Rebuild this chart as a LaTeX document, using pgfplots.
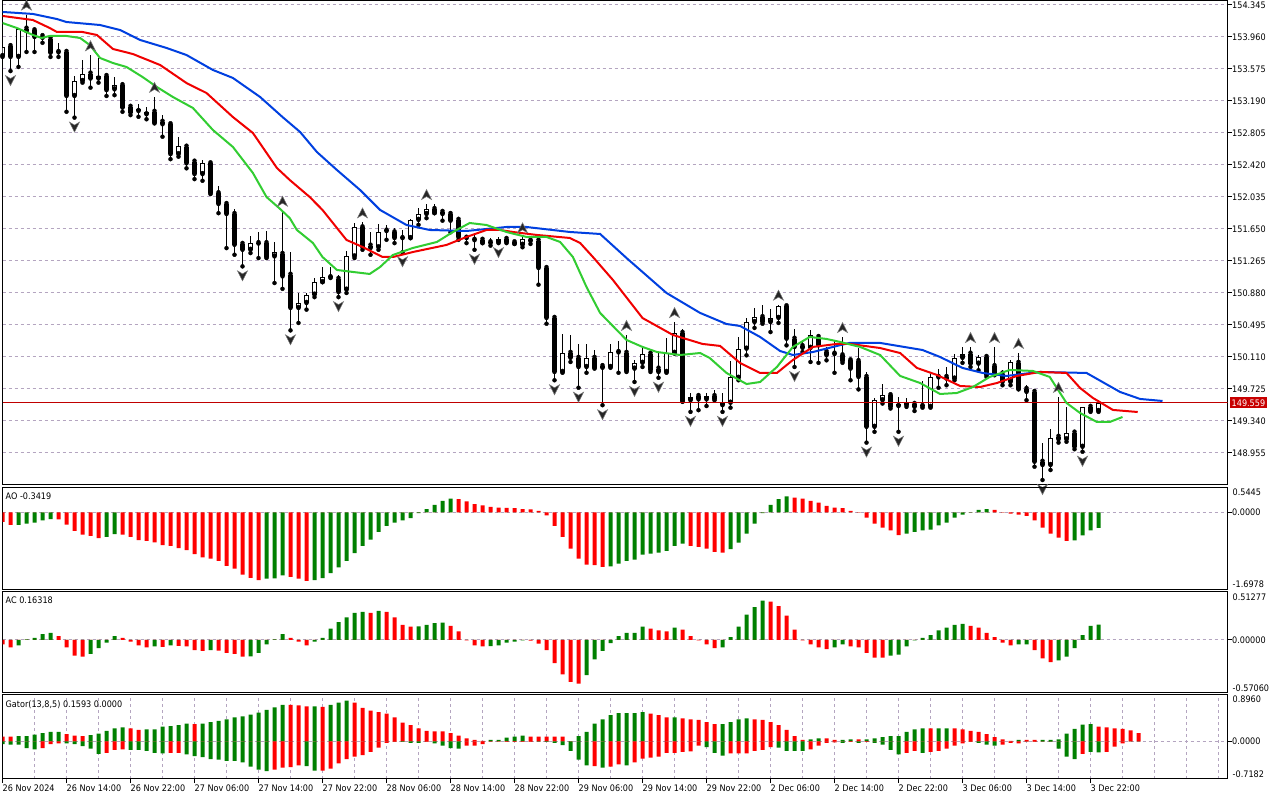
\documentclass[border=0pt]{standalone}
\usepackage{pgfplots}
\pgfplotsset{compat=1.18}
\usepackage{pgfplotstable}
\usepackage{fontspec}
\setmainfont{DejaVu Sans}[FakeStretch=0.9]
\definecolor{gridc}{RGB}{180,165,192}
\definecolor{aogreen}{RGB}{0,128,0}
\definecolor{aored}{RGB}{255,0,0}
\definecolor{jaw}{RGB}{0,64,224}
\definecolor{teeth}{RGB}{240,0,0}
\definecolor{lips}{RGB}{50,205,50}
\definecolor{pricered}{RGB}{200,0,0}

\pgfdeclareplotmark{fup}{%
  \pgfpathmoveto{\pgfqpoint{0pt}{14.5pt}}%
  \pgfpathlineto{\pgfqpoint{5pt}{4.5pt}}%
  \pgfpathlineto{\pgfqpoint{0pt}{7.5pt}}%
  \pgfpathlineto{\pgfqpoint{-5pt}{4.5pt}}%
  \pgfpathclose\pgfusepathqfillstroke}
\pgfdeclareplotmark{fdn}{%
  \pgfpathmoveto{\pgfqpoint{0pt}{-14.5pt}}%
  \pgfpathlineto{\pgfqpoint{5pt}{-4.5pt}}%
  \pgfpathlineto{\pgfqpoint{0pt}{-7.5pt}}%
  \pgfpathlineto{\pgfqpoint{-5pt}{-4.5pt}}%
  \pgfpathclose\pgfusepathqfillstroke}

% hourly candles: i open high low close
\pgfplotstableread{
i o h l c
0 153.73 153.86 153.72 153.84
1 153.85 153.85 153.55 153.72
2 153.72 154.06 153.60 154.06
3 154.06 154.23 153.78 154.03
4 154.04 154.04 153.78 153.96
5 153.97 153.98 153.89 153.95
6 153.94 153.94 153.72 153.77
7 153.78 153.89 153.72 153.775
8 153.78 153.82 153.06 153.25
9 153.25 153.49 152.99 153.43
10 153.43 153.68 153.41 153.52
11 153.52 153.74 153.35 153.46
12 153.46 153.71 153.41 153.49
13 153.49 153.53 153.25 153.32
14 153.33 153.48 153.26 153.38
15 153.38 153.42 153.06 153.11
16 153.12 153.12 153.02 153.05
17 153.07 153.15 153.00 153.09
18 153.03 153.12 152.97 153.06
19 153.06 153.24 152.92 152.93
20 152.94 153.02 152.76 152.91
21 152.91 152.91 152.49 152.55
22 152.55 152.76 152.52 152.65
23 152.64 152.66 152.38 152.44
24 152.46 152.46 152.25 152.31
25 152.31 152.48 152.23 152.44
26 152.44 152.44 152.07 152.08
27 152.08 152.17 151.84 151.95
28 151.95 151.95 151.42 151.83
29 151.83 151.89 151.34 151.46
30 151.47 151.49 151.20 151.40
31 151.40 151.57 151.36 151.48
32 151.48 151.61 151.30 151.475
33 151.48 151.63 151.30 151.31
34 151.32 151.49 151.00 151.37
35 151.35 151.87 150.93 151.08
36 151.10 151.37 150.43 150.70
37 150.70 150.88 150.52 150.76
38 150.76 150.88 150.68 150.86
39 150.86 151.06 150.83 151.01
40 151.01 151.19 151.01 151.07
41 151.07 151.19 151.06 151.075
42 151.05 151.10 150.83 150.89
43 150.92 151.39 150.88 151.32
44 151.32 151.72 151.30 151.67
45 151.67 151.73 151.40 151.43
46 151.45 151.61 151.34 151.42
47 151.43 151.71 151.40 151.61
48 151.63 151.70 151.52 151.625
49 151.61 151.66 151.48 151.54
50 151.54 151.64 151.37 151.545
51 151.54 151.77 151.54 151.76
52 151.76 151.90 151.70 151.83
53 151.83 151.95 151.78 151.89
54 151.89 151.95 151.84 151.84
55 151.855 151.89 151.75 151.83
56 151.83 151.84 151.61 151.75
57 151.76 151.77 151.52 151.55
58 151.545 151.57 151.48 151.54
59 151.52 151.58 151.40 151.515
60 151.52 151.55 151.48 151.48
61 151.49 151.54 151.45 151.48
62 151.49 151.55 151.48 151.53
63 151.53 151.54 151.48 151.49
64 151.49 151.51 151.47 151.47
65 151.46 151.55 151.43 151.53
66 151.51 151.53 151.47 151.505
67 151.51 151.51 150.98 151.18
68 151.18 151.21 150.51 150.58
69 150.58 150.62 149.83 149.93
70 149.93 150.39 149.92 150.16
71 150.16 150.38 150.05 150.10
72 150.10 150.27 149.74 149.99
73 149.99 150.27 149.92 150.10
74 150.10 150.19 149.97 149.98
75 150.00 150.01 149.53 149.98
76 149.99 150.27 149.98 150.17
77 150.17 150.30 149.92 150.165
78 150.16 150.375 149.93 149.94
79 149.97 150.07 149.81 150.04
80 150.04 150.23 149.99 150.15
81 150.15 150.19 149.93 149.95
82 149.97 150.16 149.86 149.93
83 149.93 150.34 149.92 150.16
84 150.16 150.53 150.15 150.40
85 150.40 150.45 149.57 149.58
86 149.59 149.68 149.45 149.63
87 149.64 149.68 149.47 149.60
88 149.60 149.68 149.52 149.64
89 149.64 149.71 149.59 149.60
90 149.53 149.68 149.45 149.56
91 149.56 150.06 149.50 149.87
92 149.86 150.35 149.83 150.21
93 150.21 150.58 150.13 150.53
94 150.53 150.70 150.46 150.59
95 150.59 150.74 150.51 150.53
96 150.53 150.69 150.41 150.58
97 150.58 150.74 150.52 150.72
98 150.72 150.72 150.25 150.33
99 150.33 150.45 149.99 150.23
100 150.24 150.29 150.17 150.22
101 150.22 150.43 150.05 150.375
102 150.35 150.375 150.04 150.25
103 150.17 150.23 150.07 150.13
104 150.15 150.30 149.92 150.145
105 150.13 150.35 150.04 150.06
106 150.07 150.07 149.83 149.97
107 150.06 150.22 149.72 149.87
108 149.87 149.93 149.08 149.27
109 149.27 149.62 149.21 149.59
110 149.59 149.79 149.55 149.65
111 149.65 149.68 149.49 149.51
112 149.52 149.63 149.21 149.545
113 149.53 149.62 149.51 149.57
114 149.545 149.56 149.46 149.51
115 149.52 149.82 149.50 149.515
116 149.51 149.91 149.50 149.87
117 149.87 149.97 149.74 149.865
118 149.87 149.99 149.77 149.85
119 149.85 150.15 149.83 150.10
120 150.10 150.23 150.04 150.15
121 150.15 150.23 149.99 150.03
122 150.03 150.13 149.95 150.11
123 150.11 150.11 149.87 149.89
124 150.00 150.23 149.89 149.91
125 149.91 149.95 149.77 149.81
126 149.81 150.07 149.77 150.05
127 150.04 150.16 149.72 149.725
128 149.725 149.77 149.59 149.69
129 149.69 149.69 148.79 148.85
130 148.85 149.08 148.63 148.81
131 148.81 149.24 148.75 149.14
132 149.15 149.63 149.08 149.12
133 149.12 149.51 149.09 149.20
134 149.20 149.20 149.00 149.03
135 149.03 149.51 148.97 149.51
136 149.51 149.51 149.45 149.46
137 149.46 149.59 149.45 149.559
}\candles

\pgfplotstableread{
i p
3 154.23
11 153.74
19 153.24
35 151.87
45 151.73
53 151.95
65 151.55
78 150.375
84 150.53
97 150.74
105 150.35
121 150.23
124 150.23
127 150.16
132 149.63
}\fracup

\pgfplotstableread{
i p
1 153.55
9 152.99
30 151.20
36 150.43
42 150.83
50 151.37
59 151.40
62 151.48
69 149.83
72 149.74
75 149.53
79 149.81
82 149.86
86 149.45
90 149.45
99 149.99
108 149.08
112 149.21
130 148.63
135 148.97
}\fracdn

% Awesome Oscillator: i value green(1)/red(0)
\pgfplotstableread{
i v g
0 -0.21 0
1 -0.28 0
2 -0.28 1
3 -0.25 1
4 -0.23 1
5 -0.18 1
6 -0.15 1
7 -0.155 0
8 -0.27 0
9 -0.41 0
10 -0.49 0
11 -0.52 0
12 -0.57 0
13 -0.54 1
14 -0.48 1
15 -0.49 0
16 -0.54 0
17 -0.61 0
18 -0.63 0
19 -0.66 0
20 -0.72 0
21 -0.74 0
22 -0.79 0
23 -0.83 0
24 -0.92 0
25 -0.99 0
26 -1.02 0
27 -1.07 0
28 -1.18 0
29 -1.24 0
30 -1.37 0
31 -1.44 0
32 -1.49 0
33 -1.46 1
34 -1.455 1
35 -1.39 1
36 -1.42 0
37 -1.46 0
38 -1.51 0
39 -1.49 1
40 -1.45 1
41 -1.34 1
42 -1.21 1
43 -1.07 1
44 -0.90 1
45 -0.74 1
46 -0.60 1
47 -0.43 1
48 -0.30 1
49 -0.23 1
50 -0.18 1
51 -0.13 1
52 -0.02 1
53 0.07 1
54 0.16 1
55 0.25 1
56 0.30 1
57 0.29 0
58 0.24 0
59 0.18 0
60 0.15 0
61 0.12 0
62 0.10 0
63 0.095 0
64 0.09 0
65 0.07 0
66 0.065 0
67 0.03 0
68 -0.07 0
69 -0.30 0
70 -0.54 0
71 -0.80 0
72 -1.02 0
73 -1.15 0
74 -1.16 0
75 -1.20 0
76 -1.19 1
77 -1.13 1
78 -1.07 1
79 -1.04 1
80 -0.93 1
81 -0.91 1
82 -0.89 1
83 -0.85 1
84 -0.74 1
85 -0.69 1
86 -0.74 0
87 -0.76 0
88 -0.80 0
89 -0.87 0
90 -0.89 0
91 -0.81 1
92 -0.67 1
93 -0.47 1
94 -0.25 1
95 -0.02 1
96 0.16 1
97 0.29 1
98 0.35 1
99 0.32 0
100 0.30 0
101 0.25 0
102 0.21 0
103 0.14 0
104 0.10 0
105 0.09 0
106 0.03 0
107 -0.01 0
108 -0.12 0
109 -0.25 0
110 -0.34 0
111 -0.40 0
112 -0.50 0
113 -0.47 1
114 -0.43 1
115 -0.40 1
116 -0.38 1
117 -0.29 1
118 -0.23 1
119 -0.12 1
120 -0.05 1
121 0.005 1
122 0.05 1
123 0.07 1
124 0.05 0
125 -0.01 0
126 -0.03 0
127 -0.05 0
128 -0.08 0
129 -0.18 0
130 -0.34 0
131 -0.47 0
132 -0.56 0
133 -0.63 0
134 -0.62 1
135 -0.51 1
136 -0.40 1
137 -0.3419 1
}\ao

% Accelerator Oscillator
\pgfplotstableread{
i v g
0 -0.05 0
1 -0.08 0
2 -0.06 1
3 0.005 1
4 0.02 1
5 0.06 1
6 0.075 1
7 0.04 0
8 -0.08 0
9 -0.17 0
10 -0.18 0
11 -0.15 1
12 -0.09 1
13 -0.03 1
14 0.04 1
15 0.02 0
16 -0.02 0
17 -0.06 0
18 -0.08 0
19 -0.07 1
20 -0.075 0
21 -0.06 1
22 -0.065 0
23 -0.07 0
24 -0.11 0
25 -0.12 0
26 -0.11 1
27 -0.115 0
28 -0.14 0
29 -0.15 0
30 -0.18 0
31 -0.178 1
32 -0.14 1
33 -0.05 1
34 0.005 1
35 0.06 1
36 0.02 0
37 -0.02 0
38 -0.06 0
39 -0.02 1
40 0.02 1
41 0.12 1
42 0.19 1
43 0.24 1
44 0.29 1
45 0.30 1
46 0.29 0
47 0.31 1
48 0.30 0
49 0.24 0
50 0.16 0
51 0.14 0
52 0.145 1
53 0.16 1
54 0.18 1
55 0.185 1
56 0.15 0
57 0.09 0
58 -0.005 0
59 -0.06 0
60 -0.07 0
61 -0.068 1
62 -0.06 1
63 -0.03 1
64 -0.02 1
65 -0.005 1
66 -0.008 0
67 -0.04 0
68 -0.11 0
69 -0.25 0
70 -0.37 0
71 -0.45 0
72 -0.47 0
73 -0.38 1
74 -0.21 1
75 -0.12 1
76 -0.035 1
77 0.04 1
78 0.075 1
79 0.075 1
80 0.14 1
81 0.12 0
82 0.10 0
83 0.09 0
84 0.13 1
85 0.11 0
86 0.04 0
87 -0.005 0
88 -0.05 0
89 -0.09 0
90 -0.08 1
91 0.03 1
92 0.14 1
93 0.27 1
94 0.35 1
95 0.42 1
96 0.41 0
97 0.36 0
98 0.26 0
99 0.11 0
100 -0.005 0
101 -0.05 0
102 -0.08 0
103 -0.10 0
104 -0.08 1
105 -0.05 1
106 -0.07 0
107 -0.08 0
108 -0.14 0
109 -0.19 0
110 -0.19 0
111 -0.17 1
112 -0.16 1
113 -0.07 1
114 -0.005 1
115 0.02 1
116 0.05 1
117 0.10 1
118 0.13 1
119 0.16 1
120 0.17 1
121 0.15 0
122 0.13 0
123 0.075 0
124 0.03 0
125 -0.03 0
126 -0.06 0
127 -0.05 1
128 -0.05 1
129 -0.11 0
130 -0.20 0
131 -0.24 0
132 -0.22 1
133 -0.18 1
134 -0.09 1
135 0.05 1
136 0.15 1
137 0.16318 1
}\ac

% Gator: i upper upper-green lower lower-green
\pgfplotstableread{
i u ug d dg
0 0.09 0 -0.05 1
1 0.09 0 -0.06 1
2 0.10 1 -0.06 1
3 0.10 1 -0.13 1
4 0.13 1 -0.15 1
5 0.16 1 -0.13 0
6 0.18 1 -0.05 0
7 0.18 1 -0.04 0
8 0.14 0 -0.04 1
9 0.11 0 -0.05 1
10 0.10 0 -0.09 1
11 0.12 1 -0.14 1
12 0.15 1 -0.24 1
13 0.20 1 -0.22 0
14 0.25 1 -0.16 0
15 0.27 1 -0.15 0
16 0.25 0 -0.16 1
17 0.22 0 -0.16 1
18 0.23 1 -0.18 1
19 0.23 1 -0.22 1
20 0.28 1 -0.23 1
21 0.29 1 -0.22 0
22 0.31 1 -0.22 0
23 0.34 1 -0.25 1
24 0.33 0 -0.28 1
25 0.34 1 -0.30 1
26 0.37 1 -0.34 1
27 0.39 1 -0.35 1
28 0.42 1 -0.37 1
29 0.46 1 -0.37 1
30 0.48 1 -0.40 1
31 0.51 1 -0.48 1
32 0.55 1 -0.54 1
33 0.60 1 -0.57 1
34 0.65 1 -0.54 0
35 0.70 1 -0.50 0
36 0.70 0 -0.49 0
37 0.69 0 -0.46 0
38 0.67 0 -0.47 1
39 0.67 1 -0.56 1
40 0.66 0 -0.56 0
41 0.70 1 -0.52 0
42 0.74 1 -0.42 0
43 0.78 1 -0.34 0
44 0.74 0 -0.29 0
45 0.64 0 -0.26 0
46 0.59 0 -0.20 0
47 0.56 0 -0.12 0
48 0.53 0 -0.03 0
49 0.46 0 -0.01 0
50 0.36 0 -0.01 1
51 0.31 0 -0.03 1
52 0.25 0 -0.03 1
53 0.20 0 -0.01 0
54 0.19 0 -0.04 1
55 0.19 0 -0.08 1
56 0.16 0 -0.13 1
57 0.11 0 -0.14 1
58 0.06 0 -0.08 0
59 0.03 0 -0.08 0
60 0.01 0 -0.05 0
61 0.03 1 -0.005 0
62 0.03 1 -0.005 0
63 0.07 1 -0.01 0
64 0.09 1 -0.01 0
65 0.11 1 -0.01 0
66 0.09 0 -0.01 0
67 0.09 0 -0.005 1
68 0.09 0 -0.01 1
69 0.09 0 -0.03 1
70 0.09 0 -0.07 1
71 0.005 0 -0.18 1
72 0.10 1 -0.35 1
73 0.18 1 -0.46 1
74 0.34 1 -0.47 0
75 0.42 1 -0.50 1
76 0.50 1 -0.48 0
77 0.54 1 -0.44 0
78 0.54 1 -0.46 1
79 0.54 1 -0.40 0
80 0.56 1 -0.33 0
81 0.53 0 -0.31 0
82 0.50 0 -0.29 0
83 0.46 0 -0.22 0
84 0.46 1 -0.22 0
85 0.44 0 -0.20 0
86 0.42 0 -0.19 0
87 0.41 0 -0.08 0
88 0.37 0 -0.11 1
89 0.33 0 -0.22 1
90 0.33 1 -0.27 1
91 0.37 1 -0.23 0
92 0.42 1 -0.23 0
93 0.44 1 -0.23 0
94 0.42 0 -0.18 0
95 0.41 0 -0.16 0
96 0.37 0 -0.11 0
97 0.31 0 -0.12 1
98 0.22 0 -0.18 1
99 0.10 0 -0.18 1
100 0.03 0 -0.18 1
101 0.04 1 -0.15 0
102 0.06 1 -0.08 0
103 0.06 0 -0.03 0
104 0.03 0 -0.02 0
105 0.03 1 -0.03 1
106 0.04 1 -0.01 0
107 0.04 0 -0.03 1
108 0.04 1 -0.01 0
109 0.06 1 -0.03 1
110 0.08 1 -0.06 1
111 0.10 1 -0.16 1
112 0.10 1 -0.25 1
113 0.18 1 -0.22 0
114 0.23 1 -0.18 0
115 0.25 1 -0.22 1
116 0.25 0 -0.20 0
117 0.25 1 -0.18 0
118 0.25 1 -0.14 0
119 0.25 0 -0.08 0
120 0.23 0 -0.04 0
121 0.20 0 -0.01 0
122 0.18 0 -0.03 1
123 0.14 0 -0.06 1
124 0.08 0 -0.08 1
125 0.04 0 -0.06 0
126 0.01 0 -0.03 0
127 0.03 1 -0.04 0
128 0.03 0 -0.005 0
129 0.03 0 -0.01 0
130 0.03 1 -0.005 1
131 0.03 1 -0.01 1
132 0.04 1 -0.14 1
133 0.15 1 -0.29 1
134 0.24 1 -0.34 1
135 0.32 1 -0.24 0
136 0.33 1 -0.20 1
137 0.28 0 -0.21 1
138 0.27 0 -0.20 0
139 0.25 0 -0.10 0
140 0.24 0 -0.04 0
141 0.21 0 0 0
142 0.1593 0 0 0
}\gator

\pgfplotsset{
  mtpanel/.style={
    scale only axis, width=1225pt, xmin=0, xmax=153.125,
    axis line style={black, line width=1pt},
    xtick=\empty,
    minor xtick={4,8,...,152}, xminorgrids,
    minor tick length=0pt,
    minor grid style={gridc, line width=1pt, dash pattern=on 3pt off 3pt},
    major grid style={gridc, line width=1pt, dash pattern=on 3pt off 3pt},
    ytick pos=right, yticklabel pos=right, xtick pos=bottom,
    tick align=outside, major tick length=4pt,
    tick style={black, line width=1pt},
    tick label style={font=\fontsize{9}{10.8}\selectfont, text=black},
    yticklabel style={anchor=west, inner sep=0pt, xshift=0.5pt},
    ymajorgrids,
    clip mode=individual,
  },
  hist/.style={ybar, bar width=4pt, bar shift=0pt, draw=none},
}

\begin{document}
\begin{tikzpicture}
\useasboundingbox (0pt,0pt) rectangle (1280pt,800pt);
\fill[white] (0pt,0pt) rectangle (1280pt,800pt);

% ---------------- main price panel ----------------
\begin{axis}[mtpanel, name=main, at={(2.5pt,799.5pt)}, anchor=north west,
  height=484.5pt, ymin=148.570, ymax=154.399,
  ytick={148.955,149.340,149.725,150.110,150.495,150.880,151.265,151.650,152.035,152.420,152.805,153.190,153.575,153.960,154.345},
  yticklabels={148.955,149.340,149.725,150.110,150.495,150.880,151.265,151.650,152.035,152.420,152.805,153.190,153.575,153.960,154.345},
  extra y ticks={149.559}, extra y tick labels={149.559},
  extra y tick style={grid=none, major tick length=0pt,
    yticklabel style={fill=pricered, text=white, inner xsep=2pt, inner ysep=2pt, xshift=1.5pt}},
]
% wicks
\addplot[only marks, mark=none, error bars/.cd, y dir=plus, y explicit, error mark=none,
  error bar style={black, line width=1pt}]
  table[x=i, y=l, y error plus expr=\thisrow{h}-\thisrow{l}] {\candles};
% bodies (black)
\addplot[only marks, mark=none, error bars/.cd, y dir=plus, y explicit, error mark=none,
  error bar style={black, line width=5pt}]
  table[x=i, y expr={min(\thisrow{o},\thisrow{c})}, y error plus expr={max(abs(\thisrow{c}-\thisrow{o}),0.012)}] {\candles};
% hollow interior of rising candles
\addplot[only marks, mark=none, error bars/.cd, y dir=plus, y explicit, error mark=none,
  error bar style={white, line width=3pt}]
  table[x=i, y expr={\thisrow{o}+0.012}, y error plus expr={max(\thisrow{c}-\thisrow{o}-0.024,0)}] {\candles};
% current price line
\addplot[color={rgb,255:red,192;green,0;blue,0}, line width=1pt] coordinates {(0,149.559) (153.125,149.559)};
% Alligator
\addplot[jaw, line width=2pt] coordinates {(0,154.261)(3.8,154.237)(6.8,154.176)(8.0,154.140)(12.2,154.104)(14.7,154.044)(17.2,153.924)(20.5,153.828)(23.0,153.743)(26.3,153.563)(28.8,153.467)(32.2,153.238)(35.0,152.997)(37.2,152.817)(39.3,152.576)(41.8,152.360)(44.7,152.119)(47.2,151.879)(50.5,151.698)(53.4,151.638)(58.0,151.626)(63.0,151.674)(65.5,151.674)(70.9,151.614)(74.7,151.590)(78.0,151.301)(83.0,150.880)(87.2,150.640)(90.5,150.507)(92.2,150.483)(94.7,150.351)(97.2,150.182)(98.8,150.134)(101.3,150.170)(104.3,150.243)(105.9,150.279)(109.7,150.279)(115.0,150.194)(117.2,150.110)(120.0,149.978)(122.5,149.918)(125.5,149.882)(127.5,149.906)(129.7,149.930)(135.5,149.918)(137.5,149.809)(139.7,149.689)(142.2,149.605)(145.0,149.581)};
\addplot[teeth, line width=2pt] coordinates {(0,154.213)(3.8,154.164)(5.9,154.068)(6.8,154.020)(10.0,154.020)(11.8,153.984)(13.8,153.816)(16.3,153.755)(19.7,153.623)(23.0,153.406)(25.5,153.286)(28.8,152.997)(31.3,152.805)(34.3,152.384)(35.9,152.240)(38.4,152.035)(40.0,151.879)(43.0,151.518)(45.0,151.434)(47.5,151.313)(48.8,151.313)(51.3,151.373)(55.5,151.458)(58.0,151.554)(60.5,151.638)(62.2,151.638)(63.8,151.614)(66.8,151.578)(70.9,151.542)(72.2,151.482)(73.8,151.313)(76.3,151.037)(80.0,150.579)(83.8,150.375)(87.5,150.267)(89.7,150.243)(92.2,150.038)(94.7,149.918)(96.8,149.918)(98.8,150.074)(101.3,150.231)(104.3,150.267)(105.9,150.267)(109.7,150.218)(112.2,150.158)(114.3,149.978)(116.8,149.894)(119.7,149.761)(122.2,149.749)(124.3,149.797)(126.8,149.882)(129.7,149.930)(133.0,149.918)(134.7,149.737)(136.3,149.617)(138.8,149.473)(141.9,149.448)};
\addplot[lips, line width=2pt] coordinates {(0,154.128)(1.8,154.068)(3.8,153.984)(4.9,153.948)(5.9,153.972)(8.0,153.972)(9.7,153.948)(10.9,153.864)(12.2,153.707)(13.8,153.647)(15.5,153.599)(17.5,153.479)(19.3,153.358)(21.3,153.238)(23.8,153.106)(26.3,152.841)(28.8,152.637)(31.3,152.324)(33.0,152.035)(34.7,151.891)(35.9,151.782)(36.8,151.638)(38.8,151.482)(40.0,151.313)(41.8,151.157)(43.8,151.133)(45.9,151.109)(47.2,151.193)(48.8,151.337)(51.3,151.422)(54.3,151.494)(56.3,151.614)(58.4,151.722)(60.5,151.698)(63.0,151.614)(65.5,151.554)(68.0,151.554)(69.7,151.494)(71.3,151.313)(73.0,150.952)(74.7,150.640)(78.0,150.315)(80.0,150.231)(81.8,150.170)(84.7,150.134)(87.2,150.158)(88.4,150.098)(90.5,149.918)(93.0,149.785)(94.7,149.809)(96.8,149.990)(98.8,150.231)(100.9,150.351)(103.0,150.327)(104.7,150.291)(107.2,150.231)(109.7,150.134)(112.2,149.882)(114.7,149.797)(117.2,149.665)(119.3,149.677)(121.3,149.749)(123.4,149.870)(125.9,149.954)(128.8,149.942)(130.9,149.870)(133.0,149.557)(134.7,149.436)(136.8,149.328)(138.4,149.328)(140.0,149.388)};
% fractals
\addplot[only marks, mark=fup, mark options={fill=black!85, draw=black!55, line width=0.5pt}] table[x=i, y=p] {\fracup};
\addplot[only marks, mark=fdn, mark options={fill=black!85, draw=black!55, line width=0.5pt}] table[x=i, y=p] {\fracdn};
\end{axis}

% ---------------- AO ----------------
\begin{axis}[mtpanel, name=ao, at={(2.5pt,312.5pt)}, anchor=north west,
  height=102pt, ymin=-1.6978, ymax=0.5445, ytick={0}, yticklabels={0.0000}]
\addplot[hist, fill=aogreen] table[x=i, y expr={\thisrow{v}*\thisrow{g}}] {\ao};
\addplot[hist, fill=aored] table[x=i, y expr={\thisrow{v}*(1-\thisrow{g})}] {\ao};
\end{axis}

% ---------------- AC ----------------
\begin{axis}[mtpanel, name=ac, at={(2.5pt,208pt)}, anchor=north west,
  height=101pt, ymin=-0.57060, ymax=0.51277, ytick={0}, yticklabels={0.00000}]
\addplot[hist, fill=aogreen] table[x=i, y expr={\thisrow{v}*\thisrow{g}}] {\ac};
\addplot[hist, fill=aored] table[x=i, y expr={\thisrow{v}*(1-\thisrow{g})}] {\ac};
\end{axis}

% ---------------- Gator ----------------
\begin{axis}[mtpanel, name=gator, at={(2.5pt,105.5pt)}, anchor=north west,
  height=84.5pt, ymin=-0.7182, ymax=0.8960, ytick={0}, yticklabels={0.0000},
  xtick={0,8,...,136},
  xticklabels={26 Nov 2024,26 Nov 14:00,26 Nov 22:00,27 Nov 06:00,27 Nov 14:00,27 Nov 22:00,28 Nov 06:00,28 Nov 14:00,28 Nov 22:00,29 Nov 06:00,29 Nov 14:00,29 Nov 22:00,2 Dec 06:00,2 Dec 14:00,2 Dec 22:00,3 Dec 06:00,3 Dec 14:00,3 Dec 22:00},
  xticklabel style={anchor=north west, inner sep=0pt, yshift=-1.5pt},
]
\addplot[hist, fill=aogreen] table[x=i, y expr={\thisrow{u}*\thisrow{ug}}] {\gator};
\addplot[hist, fill=aored] table[x=i, y expr={\thisrow{u}*(1-\thisrow{ug})}] {\gator};
\addplot[hist, fill=aogreen] table[x=i, y expr={\thisrow{d}*\thisrow{dg}}] {\gator};
\addplot[hist, fill=aored] table[x=i, y expr={\thisrow{d}*(1-\thisrow{dg})}] {\gator};
\end{axis}

% panel captions and scale limits
\tikzset{lbl/.style={font=\fontsize{9}{10.8}\selectfont, inner sep=0pt}}
\node[lbl, anchor=north west] at ([xshift=3pt,yshift=-5pt]ao.north west) {AO -0.3419};
\node[lbl, anchor=north west] at ([xshift=3pt,yshift=-5pt]ac.north west) {AC 0.16318};
\node[lbl, anchor=north west] at ([xshift=3pt,yshift=-5.5pt]gator.north west) {Gator(13,8,5) 0.1593 0.0000};
\node[lbl, anchor=north west] at ([xshift=5pt,yshift=-1.5pt]ao.north east) {0.5445};
\node[lbl, anchor=south west] at ([xshift=5pt,yshift=1.5pt]ao.south east) {-1.6978};
\node[lbl, anchor=north west] at ([xshift=5pt,yshift=-1.5pt]ac.north east) {0.51277};
\node[lbl, anchor=south west] at ([xshift=5pt,yshift=1.5pt]ac.south east) {-0.57060};
\node[lbl, anchor=north west] at ([xshift=5pt,yshift=-1.5pt]gator.north east) {0.8960};
\node[lbl, anchor=south west] at ([xshift=5pt,yshift=1.5pt]gator.south east) {-0.7182};
\end{tikzpicture}
\end{document}
